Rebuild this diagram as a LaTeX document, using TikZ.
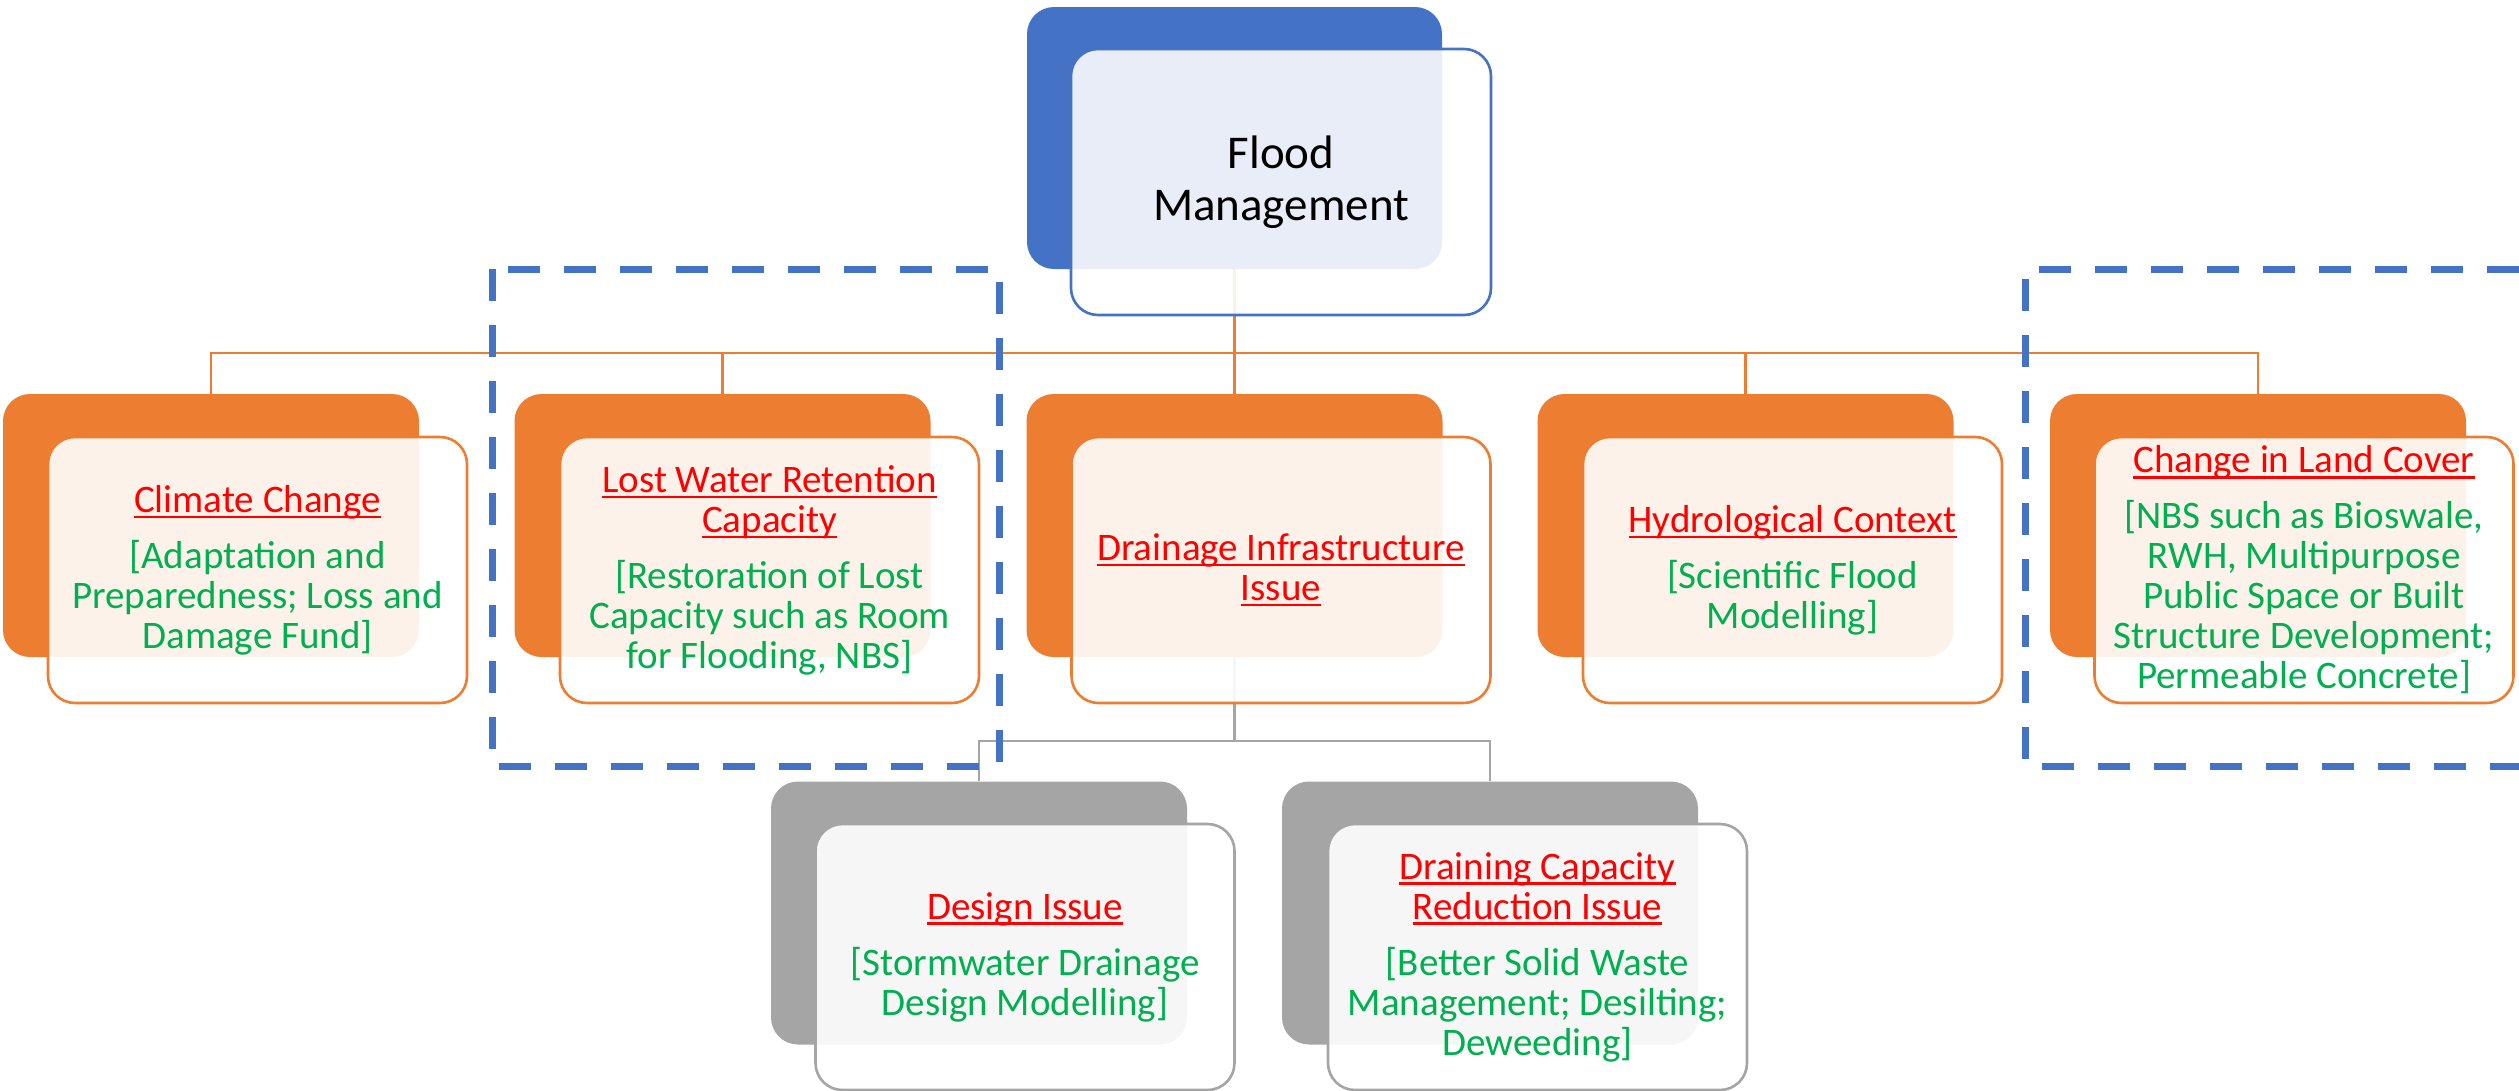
\documentclass[tikz,border=0pt]{standalone}
\usepackage{fontspec}
\setmainfont{Carlito}
\definecolor{org}{HTML}{ED7D31}
\definecolor{blu}{HTML}{4472C4}
\definecolor{gry}{HTML}{A5A5A5}
\definecolor{grn}{HTML}{00B050}
\definecolor{rd}{HTML}{FF0000}
\newcommand\ulr[1]{\setbox0\hbox{#1}\rlap{\rule[-6pt]{\wd0}{2.6pt}}\box0}
\newcommand\ttl[1]{\textcolor{rd}{\ulr{#1}}}
\begin{document}
\begin{tikzpicture}[x=1pt,y=-1pt,
  backbox/.style={rectangle, rounded corners=27pt, inner sep=0pt, minimum width=416pt, minimum height=263pt},
  frontbox/.style={rectangle, rounded corners=27pt, draw, line width=2.6pt, fill=white, fill opacity=0.9, text opacity=1, inner sep=0pt, minimum width=419pt, minimum height=266pt, align=center, text=grn, font=\fontsize{39}{40}\selectfont},
  oline/.style={draw=org, line width=2.6pt},
  gline/.style={draw=gry, line width=2.6pt},
  dashbox/.style={draw=blu, line width=7pt, dash pattern=on 32pt off 24pt}]
\useasboundingbox[fill=white] (0,0) rectangle (2519,1090);
% back boxes
\node[backbox, fill=blu, minimum width=415pt, minimum height=262pt] (fmb) at (1234.5,138) {};
\node[backbox, fill=org] (ccb) at (211,525.5) {};
\node[backbox, fill=org] (lwb) at (722.5,525.5) {};
\node[backbox, fill=org] (dib) at (1234.5,525.5) {};
\node[backbox, fill=org] (hcb) at (1745.5,525.5) {};
\node[backbox, fill=org] (lcb) at (2258,525.5) {};
\node[backbox, fill=gry] (dsb) at (979,913) {};
\node[backbox, fill=gry] (dcb) at (1490,913) {};
% connectors
\coordinate (bus) at (0,353);
\coordinate (gbus) at (0,741);
\draw[oline] (fmb.south) -- (fmb.south |- bus);
\draw[oline] (ccb.north) -- (ccb.north |- bus) -- (lcb.north |- bus) -- (lcb.north);
\draw[oline] (lwb.north) -- (lwb.north |- bus);
\draw[oline] (dib.north) -- (dib.north |- bus);
\draw[oline] (hcb.north) -- (hcb.north |- bus);
\draw[gline] (dib.south) -- (dib.south |- gbus);
\draw[gline] (dsb.north) -- (dsb.north |- gbus) -- (dcb.north |- gbus) -- (dcb.north);
% front boxes
\node[frontbox, draw=blu, fill opacity=0.88, minimum width=420pt, text=black, font=\fontsize{47}{52}\selectfont] (fm) at (1281,182) {Flood\\Management};
\node[frontbox, draw=org] (cc) at (257.5,570) {\ttl{Climate Change}\\[16pt]{[}Adaptation and\\Preparedness; Loss and\\Damage Fund]};
\node[frontbox, draw=org] (lw) at (769.5,570) {\ttl{Lost Water Retention}\\\ttl{Capacity}\\[16pt]{[}Restoration of Lost\\Capacity such as Room\\for Flooding, NBS]};
\node[frontbox, draw=org] (di) at (1281,570) {\ttl{Drainage Infrastructure}\\\ttl{Issue}};
\node[frontbox, draw=org] (hc) at (1792.5,570) {\ttl{Hydrological Context}\\[16pt]{[}Scientific Flood\\Modelling]};
\node[frontbox, draw=org] (lc) at (2304,570) {\ttl{Change in Land Cover}\\[16pt]{[}NBS such as Bioswale,\\RWH, Multipurpose\\Public Space or Built\\Structure Development;\\Permeable Concrete]};
\node[frontbox, draw=gry] (ds) at (1025,957) {\ttl{Design Issue}\\[16pt]{[}Stormwater Drainage\\Design Modelling]};
\node[frontbox, draw=gry] (dc) at (1537.5,957) {\ttl{Draining Capacity}\\\ttl{Reduction Issue}\\[16pt]{[}Better Solid Waste\\Management; Desilting;\\Deweeding]};
% dashed groupings
\draw[dashbox] (492,269) rectangle (999,766);
\draw[dashbox] (2519,269) -- (2025,269) -- (2025,766) -- (2519,766);
\end{tikzpicture}
\end{document}
